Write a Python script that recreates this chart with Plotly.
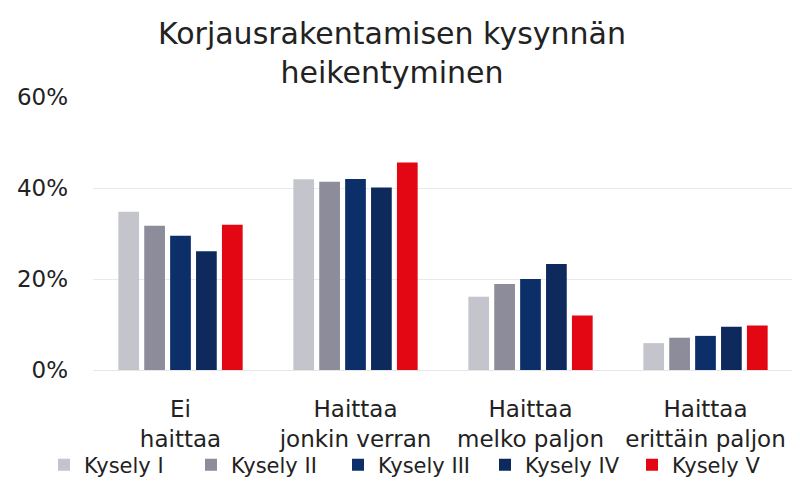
import plotly.graph_objects as go

categories = ["Ei<br>haittaa", "Haittaa<br>jonkin verran", "Haittaa<br>melko paljon", "Haittaa<br>erittäin paljon"]
series_names = ["Kysely I", "Kysely II", "Kysely III", "Kysely IV", "Kysely V"]
kysely_1 = [34.8, 41.9, 16.1, 5.9]
kysely_2 = [31.7, 41.4, 18.9, 7.1]
kysely_3 = [29.5, 42.0, 20.0, 7.5]
kysely_4 = [26.1, 40.1, 23.3, 9.5]
kysely_5 = [31.9, 45.6, 12.0, 9.8]
y_ticks = [0, 20, 40, 60]
y_tick_labels = ["0%", "20%", "40%", "60%"]

colors = ["#c4c4cc", "#8c8c9a", "#0c2f6a", "#0e2a5c", "#e30613"]
series = [kysely_1, kysely_2, kysely_3, kysely_4, kysely_5]

font_family = "'DejaVu Sans', sans-serif"

fig = go.Figure()
for name, vals, col in zip(series_names, series, colors):
    fig.add_trace(go.Bar(x=categories, y=vals, name=name, marker_color=col,
                         marker_line_width=0))

fig.update_layout(
    width=800, height=491,
    margin=dict(l=85, r=15, t=89, b=129, autoexpand=False),
    paper_bgcolor="white", plot_bgcolor="white",
    barmode="group", bargap=0.26, bargroupgap=0.2,
    title=dict(text="Korjausrakentamisen kysynnän<br>heikentyminen",
               x=0.48, xanchor="center", y=0.927, yanchor="middle",
               font=dict(family=font_family, size=30, color="#222222")),
    font=dict(family=font_family, color="#222222"),
    legend=dict(orientation="h", x=-0.07, xanchor="left",
                y=-0.348, yanchor="middle", bgcolor="rgba(0,0,0,0)",
                font=dict(size=21, color="#222222"), itemwidth=30,
                entrywidth=102, entrywidthmode="pixels",
                traceorder="normal"),
    xaxis=dict(tickfont=dict(size=23, color="#222222"), showline=True,
               linecolor="#e6e6e6", linewidth=1, ticks="", ticklabelstandoff=18),
    yaxis=dict(range=[0, 60], tickvals=y_ticks, ticktext=y_tick_labels,
               tickfont=dict(size=23, color="#222222"), showgrid=True,
               gridcolor="#eaeaea", gridwidth=1, zeroline=False, ticklabelstandoff=24),
)

fig.write_html("out.html")
